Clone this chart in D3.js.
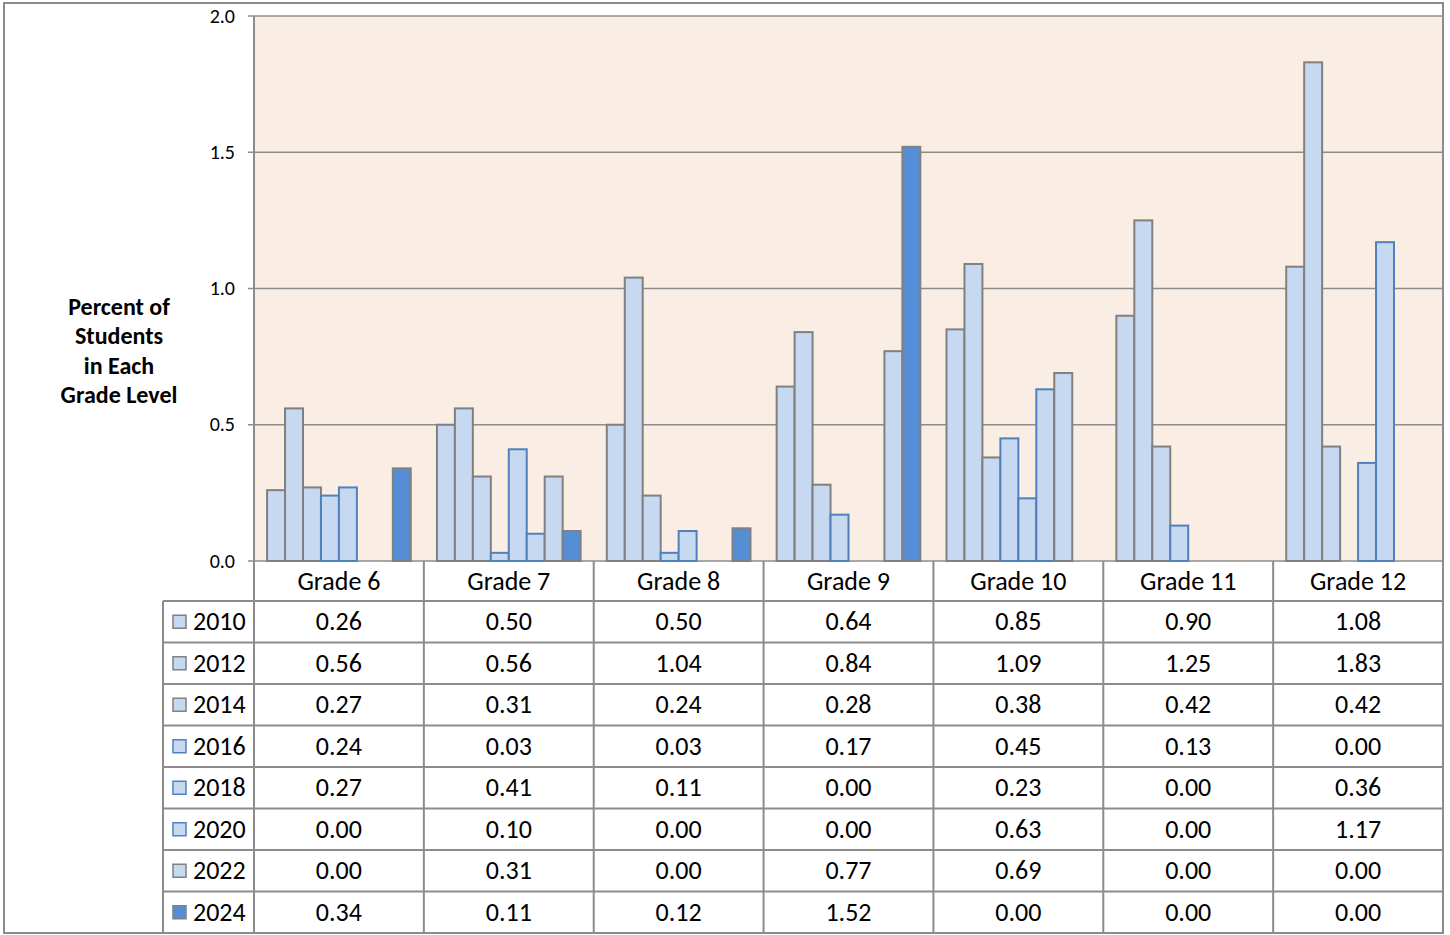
<!DOCTYPE html>
<html>
<head>
<meta charset="utf-8">
<script src="https://cdn.jsdelivr.net/npm/d3@7"></script>
<style>
  body { margin: 0; background: #fff; }
  svg { display: block; font-family: Calibri, Carlito, "Open Sans", sans-serif; }
</style>
</head>
<body>
<svg width="1450" height="935"></svg>
<script>
const grades = ["Grade 6", "Grade 7", "Grade 8", "Grade 9", "Grade 10", "Grade 11", "Grade 12"];
const years = ["2010", "2012", "2014", "2016", "2018", "2020", "2022", "2024"];
const v2010 = [0.26, 0.50, 0.50, 0.64, 0.85, 0.90, 1.08];
const v2012 = [0.56, 0.56, 1.04, 0.84, 1.09, 1.25, 1.83];
const v2014 = [0.27, 0.31, 0.24, 0.28, 0.38, 0.42, 0.42];
const v2016 = [0.24, 0.03, 0.03, 0.17, 0.45, 0.13, 0.00];
const v2018 = [0.27, 0.41, 0.11, 0.00, 0.23, 0.00, 0.36];
const v2020 = [0.00, 0.10, 0.00, 0.00, 0.63, 0.00, 1.17];
const v2022 = [0.00, 0.31, 0.00, 0.77, 0.69, 0.00, 0.00];
const v2024 = [0.34, 0.11, 0.12, 1.52, 0.00, 0.00, 0.00];
const yTicks = [0, 0.5, 1.0, 1.5, 2.0];

const series = [v2010, v2012, v2014, v2016, v2018, v2020, v2022, v2024];
const fills = ["#c6d9f0", "#c6d9f0", "#c6d9f0", "#c6d9f0", "#c6d9f0", "#c6d9f0", "#c6d9f0", "#558ed5"];
const strokes = ["#808080", "#808080", "#808080", "#4f81bd", "#4f81bd", "#4f81bd", "#808080", "#808080"];

const plotLeft = 254, plotRight = 1443, plotTop = 16, plotBottom = 561;
const headerH = 40, rowH = 41.5, tableLeft = 163;
const lineColor = "#8c8c8c";
const tableFont = 26;

const svg = d3.select("svg");

// outer frame
svg.append("rect")
  .attr("x", 4).attr("y", 3)
  .attr("width", plotRight - 4).attr("height", 930)
  .attr("fill", "none").attr("stroke", lineColor).attr("stroke-width", 2);

const x0 = d3.scaleBand().domain(grades).range([plotLeft, plotRight]);
const x1 = d3.scaleBand().domain(years)
  .range([x0.bandwidth() * 0.077, x0.bandwidth() * 0.923]);
const y = d3.scaleLinear().domain([0, 2]).range([plotBottom, plotTop]);

// plot background
svg.append("rect")
  .attr("x", plotLeft).attr("y", plotTop)
  .attr("width", plotRight - plotLeft).attr("height", plotBottom - plotTop)
  .attr("fill", "#faeee4");

// gridlines + tick marks
svg.append("g")
  .selectAll("line")
  .data(yTicks)
  .join("line")
  .attr("x1", plotLeft - 6).attr("x2", plotRight)
  .attr("y1", d => y(d)).attr("y2", d => y(d))
  .attr("stroke", lineColor).attr("stroke-width", 1.5);

svg.append("g")
  .selectAll("text")
  .data(yTicks)
  .join("text")
  .attr("x", 235).attr("y", d => y(d))
  .attr("dy", "0.33em")
  .attr("text-anchor", "end")
  .attr("font-size", 20)
  .attr("fill", "#000")
  .text(d => d.toFixed(1));

// bars
const groups = svg.append("g")
  .selectAll("g")
  .data(grades)
  .join("g")
  .attr("transform", d => `translate(${x0(d)},0)`);

groups.selectAll("rect")
  .data((g, gi) => years.map((yr, si) => ({ yr, si, v: series[si][gi] })).filter(d => d.v > 0))
  .join("rect")
  .attr("x", d => x1(d.yr))
  .attr("width", x1.bandwidth())
  .attr("y", d => y(d.v))
  .attr("height", d => plotBottom - y(d.v))
  .attr("fill", d => fills[d.si])
  .attr("stroke", d => strokes[d.si])
  .attr("stroke-width", 2);

// plot border (left & right)
svg.append("line")
  .attr("x1", plotLeft).attr("x2", plotLeft).attr("y1", plotTop).attr("y2", 933)
  .attr("stroke", lineColor).attr("stroke-width", 2);
svg.append("line")
  .attr("x1", plotRight).attr("x2", plotRight).attr("y1", plotTop).attr("y2", 933)
  .attr("stroke", lineColor).attr("stroke-width", 2);

// data table
const table = svg.append("g");
const tableTop = plotBottom + headerH;
const tableBottom = tableTop + rowH * years.length;

// category separators
table.selectAll("line.vsep")
  .data(grades.slice(1))
  .join("line")
  .attr("class", "vsep")
  .attr("x1", d => x0(d)).attr("x2", d => x0(d))
  .attr("y1", plotBottom).attr("y2", tableBottom)
  .attr("stroke", lineColor).attr("stroke-width", 2);

// row lines
table.selectAll("line.hsep")
  .data(d3.range(years.length + 1))
  .join("line")
  .attr("class", "hsep")
  .attr("x1", tableLeft).attr("x2", plotRight)
  .attr("y1", i => tableTop + i * rowH).attr("y2", i => tableTop + i * rowH)
  .attr("stroke", lineColor).attr("stroke-width", 2);

table.append("line")
  .attr("x1", tableLeft).attr("x2", tableLeft)
  .attr("y1", tableTop).attr("y2", tableBottom)
  .attr("stroke", lineColor).attr("stroke-width", 2);

// header labels
table.selectAll("text.head")
  .data(grades)
  .join("text")
  .attr("class", "head")
  .attr("x", d => x0(d) + x0.bandwidth() / 2)
  .attr("y", plotBottom + headerH / 2)
  .attr("dy", "0.33em")
  .attr("text-anchor", "middle")
  .attr("font-size", tableFont)
  .text(d => d);

// rows
const rows = table.selectAll("g.row")
  .data(years)
  .join("g")
  .attr("class", "row")
  .attr("transform", (d, i) => `translate(0,${tableTop + i * rowH + rowH / 2})`);

rows.append("rect")
  .attr("x", 173).attr("y", -6.5)
  .attr("width", 13).attr("height", 13)
  .attr("fill", (d, i) => fills[i])
  .attr("stroke", (d, i) => strokes[i])
  .attr("stroke-width", 1.5);

rows.append("text")
  .attr("x", 193)
  .attr("dy", "0.33em")
  .attr("font-size", tableFont)
  .text(d => d);

rows.selectAll("text.val")
  .data((d, i) => series[i].map((v, gi) => ({ v, g: grades[gi] })))
  .join("text")
  .attr("class", "val")
  .attr("x", d => x0(d.g) + x0.bandwidth() / 2)
  .attr("dy", "0.33em")
  .attr("text-anchor", "middle")
  .attr("font-size", tableFont)
  .text(d => d.v.toFixed(2));

// y-axis title
svg.append("text")
  .attr("x", 119).attr("y", 307)
  .attr("text-anchor", "middle")
  .attr("font-size", 24)
  .attr("font-weight", "bold")
  .selectAll("tspan")
  .data(["Percent of", "Students", "in Each", "Grade Level"])
  .join("tspan")
  .attr("x", 119)
  .attr("dy", (d, i) => i === 0 ? "0.33em" : 29.5)
  .text(d => d);
</script>
</body>
</html>
